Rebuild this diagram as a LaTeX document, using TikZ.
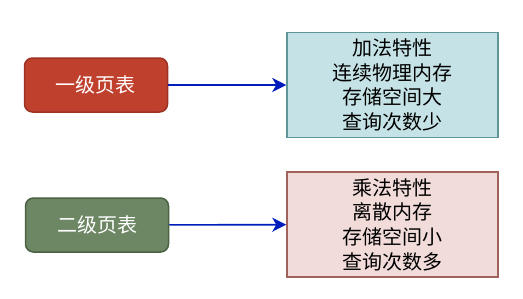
\documentclass[tikz,border=0pt]{standalone}
\usepackage{fontspec}
\setmainfont{Noto Sans CJK SC}
\usetikzlibrary{arrows.meta}
\definecolor{tblred}{HTML}{C0402E}
\definecolor{tblredline}{HTML}{9E3222}
\definecolor{tblgreen}{HTML}{6D8764}
\definecolor{tblgreenline}{HTML}{4A6142}
\definecolor{propblue}{HTML}{C5E3E6}
\definecolor{propblueline}{HTML}{5E9598}
\definecolor{proppink}{HTML}{F2DCDA}
\definecolor{proppinkline}{HTML}{A0625A}
\definecolor{arrowblue}{HTML}{001DBC}
\begin{document}
\begin{tikzpicture}[x=1pt, y=-1pt,
    table/.style={rounded corners=8pt, line width=1.5pt, minimum width=143pt, minimum height=54pt, text=white, font=\fontsize{20}{24}\selectfont, inner sep=0pt},
    prop/.style={line width=1.5pt, minimum width=211pt, minimum height=105pt, align=center, font=\fontsize{20}{24.7}\selectfont, inner sep=0pt},
    edge/.style={-{Stealth[length=14pt, width=14pt, inset=4pt]}, line width=1.6pt, draw=arrowblue},
]
\useasboundingbox (0,0) rectangle (523,298);
\node[table, fill=tblred, draw=tblredline] (t1) at (96,85) {一级页表};
\node[table, fill=tblgreen, draw=tblgreenline] (t2) at (97,225) {二级页表};
\node[prop, fill=propblue, draw=propblueline] (p1) at (392.5,85) {加法特性\\连续物理内存\\存储空间大\\查询次数少};
\node[prop, fill=proppink, draw=proppinkline] (p2) at (392.5,224.5) {乘法特性\\离散内存\\存储空间小\\查询次数多};
\draw[edge] (t1) -- (p1);
\draw[edge] (t2) -- (p2);
\end{tikzpicture}
\end{document}
